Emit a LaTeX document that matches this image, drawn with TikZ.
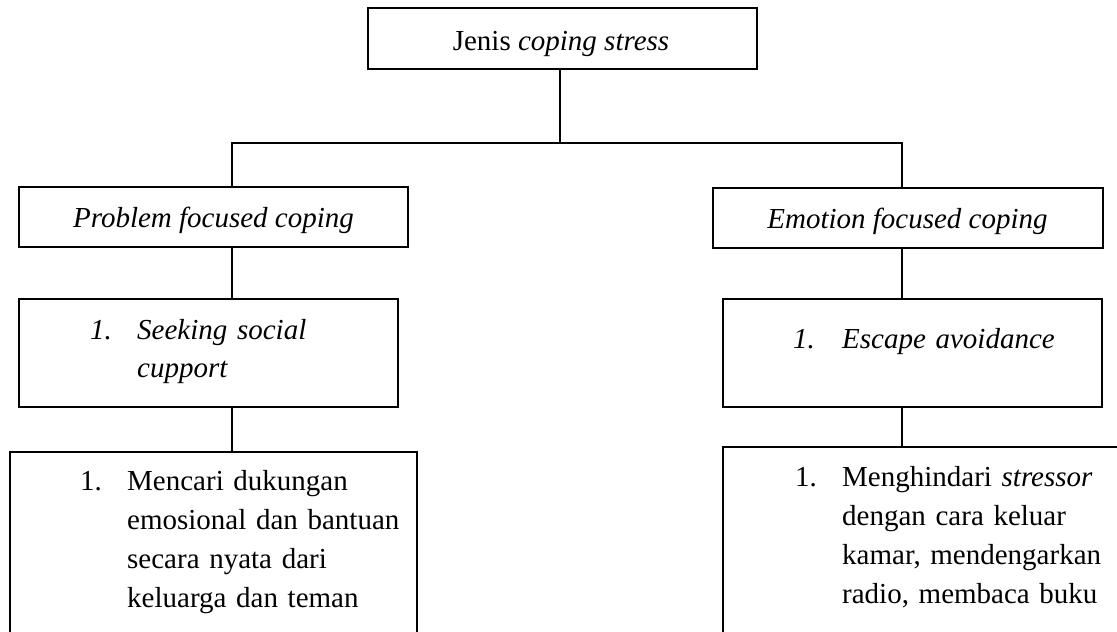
\documentclass[tikz,border=0pt]{standalone}
\usepackage{fontspec}
\setmainfont{Liberation Serif}
\begin{document}
\begin{tikzpicture}[x=1pt,y=-1pt,
  box/.style={draw,line width=1.3pt,rectangle,inner sep=0pt},
  wire/.style={line width=1.3pt},
  label/.style={inner sep=0pt,anchor=base west,font=\fontsize{29}{39}\selectfont},
  centred/.style={inner sep=0pt,anchor=base,font=\fontsize{29}{39}\selectfont},
  block/.style={inner sep=0pt,anchor=base west,align=left,text width=300pt,font=\fontsize{29}{39}\selectfont}]
\useasboundingbox (0,0) rectangle (1117,632);
\clip (0,0) rectangle (1117,632);

% boxes
\node[box,minimum width=389pt,minimum height=61pt] (top) at (562.5,38.5) {};
\node[box,minimum width=389pt,minimum height=60pt] (pfc) at (213.5,217) {};
\node[box,minimum width=390pt,minimum height=60pt] (efc) at (908,218) {};
\node[box,minimum width=379pt,minimum height=108pt] (ssc) at (208.5,353) {};
\node[box,minimum width=379pt,minimum height=108pt] (esc) at (912.5,353) {};
\node[box,minimum width=407pt,minimum height=220pt] (dl) at (213.5,562) {};
\node[box,minimum width=420pt,minimum height=220pt] (dr) at (933,557) {};

% texts
\node[centred] (ttop) at (561,50) {Jenis \textit{coping stress}};
\node[centred] (tpfc) at (213.5,227) {\textit{Problem focused coping}};
\node[centred] (tefc) at (907.5,228) {\textit{Emotion focused coping}};

\node[label] (nssc) at (90,339) {\textit{1.}};
\node[block] (tssc) at (137,339) {\textit{Seeking social}\\[-1pt]\textit{cupport}};
\node[label] (nesc) at (793,348) {\textit{1.}};
\node[block] (tesc) at (842,348) {\textit{Escape avoidance}};

\node[label] (ndl) at (80,490) {1.};
\node[block] (tdl) at (127,490) {Mencari dukungan\\emosional dan bantuan\\secara nyata dari\\keluarga dan teman};
\node[label] (ndr) at (795,486) {1.};
\node[block] (tdr) at (842,486) {Menghindari \textit{stressor}\\dengan cara keluar\\kamar, mendengarkan\\radio, membaca buku};

% connectors
\coordinate (fork) at (560,143);
\draw[wire] (top.south -| fork) -- (fork);
\draw[wire] (pfc.north -| 232,0) |- (fork) -| (efc.north -| 902,0);
\draw[wire] (pfc.south -| 232,0) -- (ssc.north -| 232,0);
\draw[wire] (efc.south -| 902,0) -- (esc.north -| 902,0);
\draw[wire] (ssc.south -| 232,0) -- (dl.north -| 232,0);
\draw[wire] (esc.south -| 902,0) -- (dr.north -| 902,0);
\end{tikzpicture}
\end{document}
